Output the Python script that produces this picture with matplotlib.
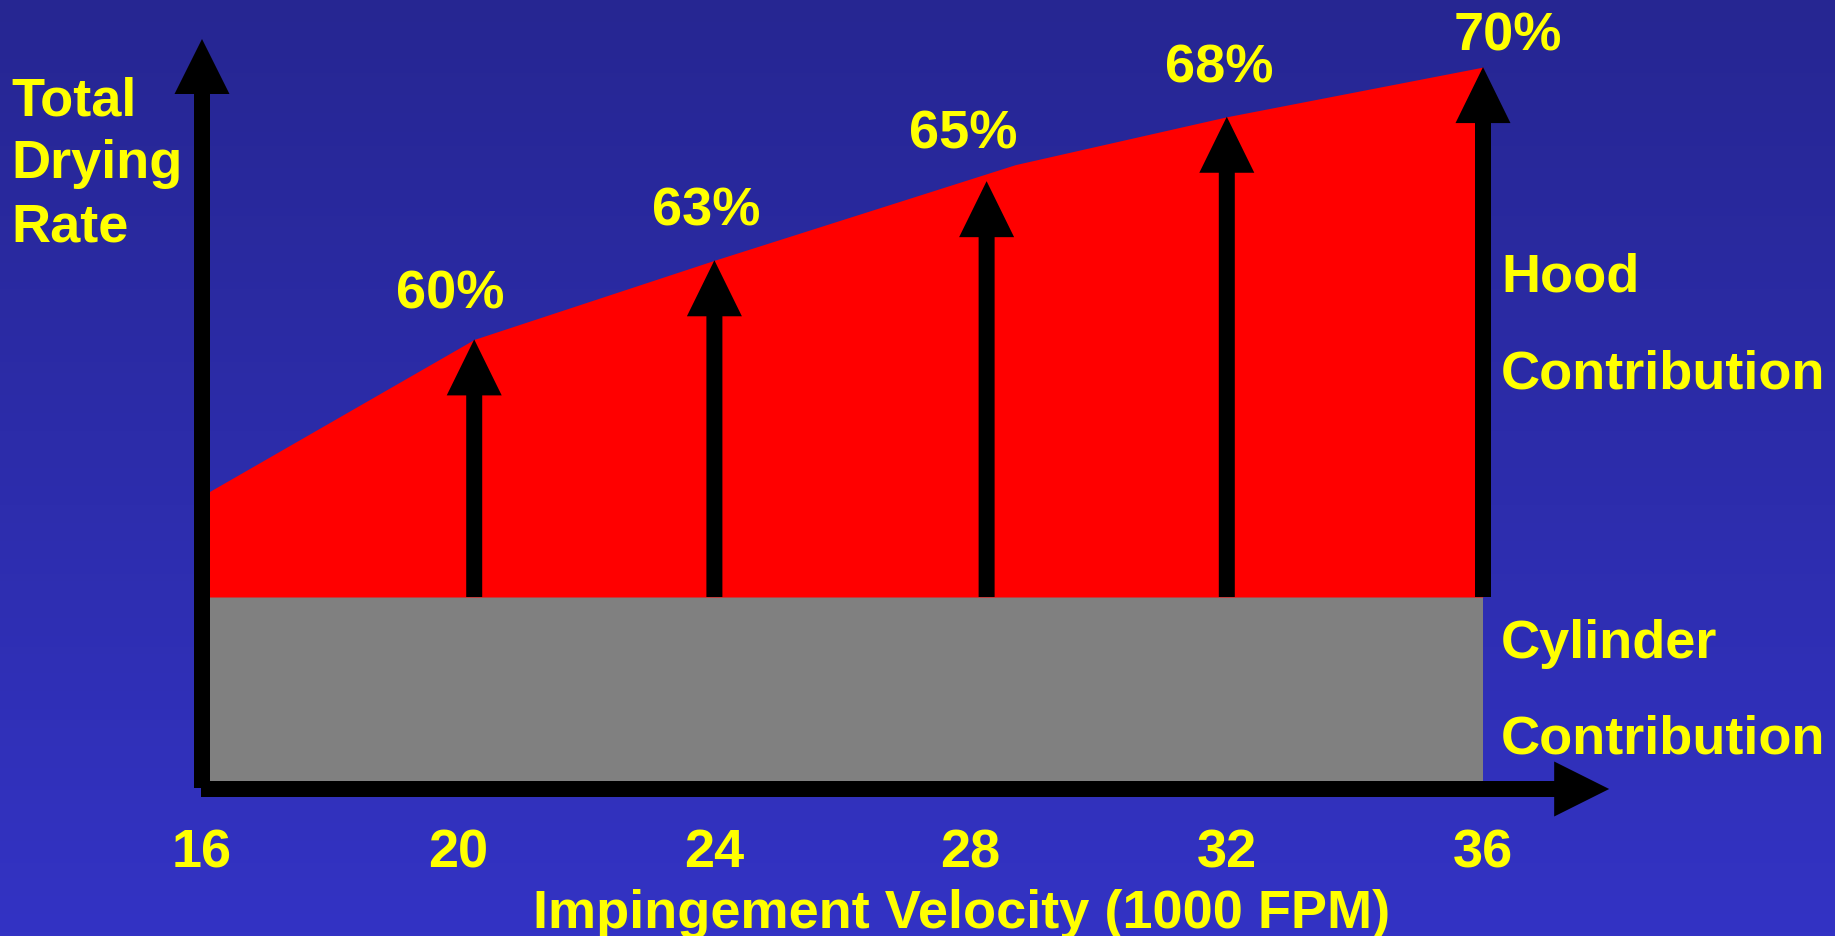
import numpy as np
import matplotlib
matplotlib.use("Agg")
import matplotlib.pyplot as plt
from matplotlib.colors import LinearSegmentedColormap

# data
velocity_ticks = [16, 20, 24, 28, 32, 36]
arrow_velocity = [20.25, 24.0, 28.25, 32.0, 36.0]
arrow_total = [2.40, 2.83, 3.26, 3.61, 3.88]
hood_share = ["60%", "63%", "65%", "68%", "70%"]
envelope_velocity = [16, 20.25, 24.0, 28.7, 32.0, 36.0]
envelope_total = [1.55, 2.40, 2.83, 3.35, 3.61, 3.88]
cylinder_rate = 1.0

W, H = 1835, 936
X0PX, XSCALE = 202, 64.05      # pixel of x=16, pixels per 1000 FPM
Y0PX, YSCALE = 781, 184        # pixel of y=0, pixels per unit
YELLOW = "#FFFF00"
FONT = dict(family="Liberation Sans", weight="bold", color=YELLOW, size=39)

fig = plt.figure(figsize=(W / 100, H / 100), dpi=100)
ax = fig.add_axes([0, 0, 1, 1])
xlim = (16 - X0PX / XSCALE, 16 + (W - X0PX) / XSCALE)
ylim = ((Y0PX - H) / YSCALE, Y0PX / YSCALE)
ax.set_xlim(xlim); ax.set_ylim(ylim); ax.axis("off")

# background gradient
bg = LinearSegmentedColormap.from_list("bg", ["#3333C4", "#262692"])
ax.imshow(np.linspace(0, 1, 256).reshape(-1, 1), cmap=bg, aspect="auto",
          extent=(*xlim, *ylim), origin="lower", zorder=0)

# cylinder contribution
ax.fill_between([velocity_ticks[0], velocity_ticks[-1]], 0, cylinder_rate,
                color="#808080", lw=0, zorder=1)
# hood contribution
ax.fill_between(envelope_velocity, cylinder_rate, envelope_total,
                color="#FF0000", lw=0, zorder=2)

def px_x(p): return p / XSCALE
def px_y(p): return p / YSCALE

# hood arrows
for x, top in zip(arrow_velocity, arrow_total):
    ax.arrow(x, cylinder_rate, 0, top - cylinder_rate, width=px_x(16),
             head_width=px_x(55), head_length=px_y(56),
             length_includes_head=True, fc="black", ec="none", zorder=4)

# axes arrows
ax.arrow(16, px_y(-7), 0, px_y(7) + px_y(Y0PX - 39), width=px_x(16),
         head_width=px_x(55), head_length=px_y(55),
         length_includes_head=True, fc="black", ec="none", zorder=5)
ax.arrow(16 - px_x(1), -px_y(8), 37.97 - 16 + px_x(1), 0, width=px_y(16),
         head_width=px_y(55), head_length=px_x(55),
         length_includes_head=True, fc="black", ec="none", zorder=5)

# percentage labels
dx = [-24, -8, -23, -8, 25]
dy = [45, 49, 47, 48, 31]
for x, top, lab, ox, oy in zip(arrow_velocity, arrow_total, hood_share, dx, dy):
    ax.annotate(lab, (x, top), xytext=(ox, oy), textcoords="offset pixels",
                ha="center", va="center", zorder=6, **FONT)

# tick labels
for v in velocity_ticks:
    ax.text(v, (Y0PX - 867) / YSCALE, str(v), ha="center", va="baseline", **FONT)

def ftext(xp, yp, s, **kw):
    fig.text(xp / W, 1 - yp / H, s, va="baseline", **FONT, **kw)

ftext(962, 928, "Impingement Velocity (1000 FPM)", ha="center")
for yp, s in zip([115, 178, 242], ["Total", "Drying", "Rate"]):
    ftext(11, yp, s, ha="left")
for yp, s in zip([291, 388, 658, 754], ["Hood", "Contribution", "Cylinder", "Contribution"]):
    ftext(1501, yp, s, ha="left")

fig.savefig("out.png", dpi=100)
